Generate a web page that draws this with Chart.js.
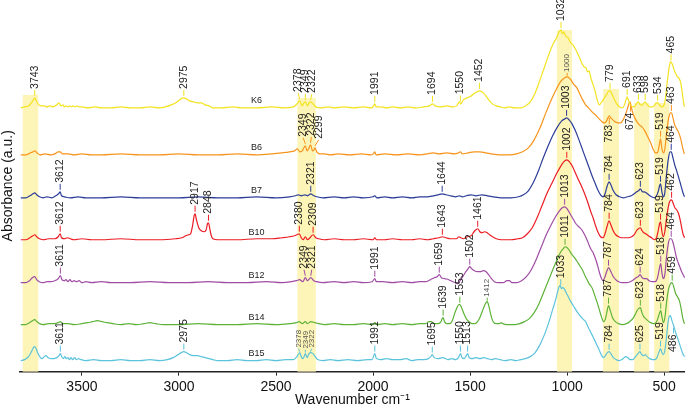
<!DOCTYPE html>
<html>
<head>
<meta charset="utf-8">
<title>FTIR spectra</title>
<script src="https://cdn.jsdelivr.net/npm/chart.js"></script>
<style>
  html, body { margin: 0; padding: 0; background: #fff; }
  #chart { display: block; }
</style>
</head>
<body>
<canvas id="chart" width="685" height="406"></canvas>
<script>
// Spectra, each point is [wavenumber, absorbance above the trace's own baseline]
const k6 = [[3815,0],[3795,1],[3775,2],[3760,5],[3750,8],[3743,10],[3735,7],[3722,3],[3710,2],[3695,2],[3680,1],[3665,2],[3650,1],[3630,3],[3618,5],[3608,2],[3598,3],[3590,1],[3582,2],[3572,1],[3565,2],[3555,1],[3545,2],[3535,1],[3525,2],[3515,1],[3500,1],[3470,0],[3430,1],[3400,0],[3350,0],[3300,1],[3250,0],[3200,0],[3150,1],[3100,0],[3070,1],[3040,3],[3010,6],[2990,9],[2975,10],[2962,9],[2945,7],[2925,6],[2905,5],[2885,5],[2865,3],[2845,2],[2825,0],[2780,0],[2720,1],[2680,0],[2600,0],[2520,1],[2460,0],[2410,1],[2392,4],[2378,7],[2365,2],[2356,5],[2349,6],[2338,2],[2330,5],[2322,6],[2310,4],[2295,1],[2270,0],[2230,1],[2200,0],[2150,1],[2100,0],[2050,1],[2010,0],[2000,1],[1991,4],[1984,1],[1960,1],[1930,0],[1900,1],[1860,0],[1820,1],[1780,0],[1740,1],[1710,2],[1694,4],[1680,2],[1650,1],[1620,2],[1590,1],[1570,2],[1555,6],[1548,4],[1535,8],[1515,10],[1495,12],[1475,15],[1452,17],[1432,15],[1415,11],[1400,7],[1385,4],[1365,2],[1345,1],[1320,0],[1300,1],[1270,0],[1240,0],[1215,2],[1190,6],[1165,15],[1140,28],[1115,42],[1090,56],[1070,65],[1055,70],[1045,75],[1038,77],[1032,78],[1025,74],[1018,76],[1008,72],[995,70],[985,66],[970,63],[955,58],[940,52],[925,45],[912,41],[903,40],[895,36],[888,37],[878,30],[868,24],[858,18],[845,8],[835,3],[822,6],[808,10],[795,14],[785,17],[779,17],[770,14],[758,9],[745,4],[730,1],[715,0],[705,3],[697,8],[691,11],[683,7],[672,2],[662,1],[650,2],[640,5],[633,6],[622,3],[612,3],[604,5],[598,6],[588,3],[575,1],[560,1],[548,3],[540,5],[534,5],[525,3],[512,1],[503,2],[495,8],[485,25],[475,40],[468,46],[462,45],[455,42],[447,37],[440,34],[432,31],[425,30],[415,25],[405,12],[398,3],[395,1]];
const b6 = [[3815,0],[3790,0],[3765,2],[3752,3],[3743,4],[3732,2],[3715,0],[3690,1],[3660,0],[3640,1],[3622,3],[3612,3],[3600,1],[3570,1],[3540,0],[3500,1],[3450,0],[3400,0],[3300,1],[3200,0],[3100,0],[3000,1],[2900,0],[2800,0],[2700,1],[2600,0],[2520,1],[2470,2],[2430,3],[2405,4],[2390,6],[2378,3],[2365,4],[2349,9],[2340,4],[2332,6],[2322,10],[2312,4],[2305,5],[2299,7],[2290,3],[2275,1],[2250,1],[2220,0],[2180,1],[2120,0],[2060,1],[2010,0],[1998,1],[1991,3],[1984,0],[1940,1],[1880,0],[1820,1],[1760,0],[1720,1],[1690,2],[1660,1],[1620,2],[1580,1],[1560,2],[1550,3],[1540,1],[1510,2],[1480,3],[1450,3],[1420,2],[1390,1],[1350,0],[1300,0],[1260,1],[1230,3],[1200,7],[1170,15],[1140,27],[1110,42],[1080,56],[1055,66],[1035,73],[1015,77],[1000,78],[985,76],[968,71],[950,67],[935,61],[920,55],[905,50],[890,47],[872,43],[855,40],[840,37],[825,34],[810,32],[800,33],[790,37],[783,39],[775,37],[765,35],[752,33],[738,32],[725,32],[712,35],[700,40],[690,46],[682,51],[676,53],[670,48],[662,42],[652,37],[640,33],[628,30],[615,28],[600,24],[585,18],[570,12],[558,6],[545,2],[535,2],[527,8],[519,16],[512,6],[503,2],[496,7],[488,22],[478,36],[468,42],[462,42],[455,37],[446,30],[436,26],[425,22],[415,16],[405,7],[398,2],[395,1]];
const b7 = [[3815,0],[3790,0],[3768,2],[3752,4],[3743,5],[3733,3],[3718,1],[3700,0],[3680,1],[3655,0],[3635,2],[3620,4],[3612,6],[3605,2],[3590,1],[3560,0],[3520,1],[3480,0],[3400,0],[3300,1],[3200,0],[3100,0],[3000,0],[2900,1],[2800,0],[2700,0],[2600,1],[2500,0],[2430,1],[2400,2],[2385,3],[2370,2],[2350,3],[2338,2],[2321,4],[2305,2],[2290,1],[2260,0],[2200,1],[2150,0],[2100,1],[2050,0],[2000,1],[1991,2],[1980,0],[1940,1],[1900,0],[1850,1],[1800,0],[1760,1],[1720,1],[1690,2],[1665,3],[1644,4],[1625,3],[1600,2],[1575,1],[1555,2],[1540,1],[1520,2],[1495,3],[1470,2],[1440,3],[1410,2],[1380,1],[1340,0],[1290,0],[1250,1],[1225,3],[1200,7],[1175,15],[1150,26],[1125,39],[1100,51],[1075,62],[1050,71],[1028,77],[1012,79],[1003,80],[990,78],[975,74],[960,68],[945,61],[930,53],[915,45],[900,37],[885,29],[870,21],[855,14],[840,7],[828,3],[815,1],[805,4],[795,11],[784,16],[775,13],[762,7],[748,3],[730,1],[710,0],[690,1],[670,2],[655,4],[642,6],[632,7],[623,9],[612,6],[603,6],[593,5],[580,3],[565,1],[550,0],[540,2],[530,7],[524,12],[519,14],[512,6],[505,1],[497,5],[488,24],[478,40],[470,46],[464,46],[455,40],[446,33],[436,27],[425,20],[415,13],[405,6],[398,2],[395,1]];
const b10 = [[3815,0],[3790,0],[3768,2],[3752,4],[3743,5],[3733,3],[3718,1],[3700,0],[3670,1],[3640,1],[3622,3],[3612,6],[3605,2],[3590,1],[3575,2],[3560,1],[3540,0],[3500,1],[3450,0],[3400,0],[3300,1],[3200,0],[3100,0],[3020,1],[2985,2],[2965,4],[2950,5],[2940,6],[2930,14],[2922,24],[2917,26],[2910,20],[2898,12],[2885,9],[2870,8],[2860,10],[2853,16],[2848,17],[2842,12],[2835,5],[2825,1],[2800,0],[2700,0],[2600,1],[2520,1],[2470,2],[2430,3],[2405,4],[2392,5],[2380,6],[2370,2],[2360,0],[2349,3],[2338,0],[2325,2],[2309,5],[2295,2],[2280,1],[2250,0],[2200,1],[2150,0],[2100,0],[2050,1],[2000,0],[1991,2],[1982,0],[1940,0],[1900,1],[1850,0],[1800,0],[1760,1],[1720,0],[1690,1],[1660,2],[1643,3],[1625,2],[1600,1],[1570,1],[1558,3],[1548,2],[1535,1],[1515,3],[1495,4],[1480,8],[1470,10],[1461,11],[1450,8],[1440,7],[1425,8],[1412,7],[1400,5],[1385,3],[1365,1],[1340,0],[1290,0],[1255,1],[1230,2],[1205,6],[1180,12],[1155,22],[1130,34],[1105,46],[1080,56],[1055,66],[1035,73],[1018,78],[1002,80],[988,78],[972,73],[958,67],[942,60],[925,53],[910,46],[895,38],[880,29],[865,21],[852,13],[840,7],[828,3],[815,2],[805,6],[795,13],[784,19],[775,15],[763,9],[750,5],[735,3],[720,2],[700,2],[685,2],[668,3],[655,5],[643,9],[633,11],[623,12],[614,9],[605,7],[595,6],[582,4],[565,2],[550,0],[540,2],[530,10],[524,16],[519,18],[512,8],[505,3],[497,8],[488,22],[478,34],[470,39],[462,40],[453,36],[445,32],[436,30],[426,26],[418,20],[410,12],[402,5],[395,2]];
const b12 = [[3815,0],[3790,0],[3770,2],[3755,5],[3743,6],[3733,3],[3720,1],[3700,0],[3680,1],[3660,1],[3640,2],[3622,4],[3611,7],[3603,3],[3592,2],[3582,3],[3572,1],[3562,3],[3552,1],[3540,2],[3528,1],[3515,2],[3500,0],[3480,1],[3450,0],[3400,1],[3350,0],[3250,0],[3150,1],[3050,0],[2950,0],[2850,1],[2750,0],[2650,0],[2550,1],[2470,0],[2420,1],[2395,2],[2378,3],[2362,1],[2349,5],[2338,2],[2321,5],[2305,2],[2290,1],[2260,0],[2200,1],[2150,0],[2100,1],[2050,0],[2005,1],[1991,4],[1983,1],[1950,1],[1900,0],[1850,1],[1800,0],[1760,1],[1730,1],[1705,3],[1685,5],[1670,6],[1659,8],[1648,5],[1630,4],[1610,3],[1590,1],[1575,0],[1562,-1],[1552,2],[1538,6],[1522,11],[1510,14],[1502,16],[1492,14],[1478,12],[1462,11],[1448,11],[1432,12],[1418,11],[1405,8],[1390,4],[1375,1],[1355,0],[1330,0],[1310,2],[1298,2],[1285,0],[1260,0],[1235,2],[1210,6],[1185,13],[1160,23],[1135,35],[1110,47],[1085,57],[1060,66],[1040,72],[1025,75],[1013,76],[1000,74],[985,69],[970,64],[955,59],[940,56],[925,53],[910,48],[898,43],[886,37],[876,33],[866,30],[856,25],[846,19],[835,11],[825,5],[815,2],[805,6],[795,12],[787,15],[777,12],[765,7],[750,3],[735,1],[715,0],[695,0],[675,1],[658,3],[645,5],[635,6],[624,8],[614,5],[604,4],[592,4],[578,2],[562,1],[548,1],[536,4],[528,11],[522,17],[518,19],[512,10],[505,4],[497,8],[488,26],[478,40],[470,44],[464,44],[456,41],[447,34],[438,26],[428,20],[418,15],[408,10],[400,7],[395,5]];
const b14 = [[3815,0],[3790,0],[3770,2],[3755,4],[3743,5],[3732,3],[3718,1],[3700,0],[3670,1],[3640,1],[3622,2],[3611,3],[3600,1],[3570,1],[3540,0],[3500,1],[3470,2],[3445,3],[3420,4],[3395,3],[3370,2],[3340,1],[3300,0],[3260,1],[3220,0],[3180,1],[3150,2],[3120,1],[3080,0],[3000,0],[2900,1],[2800,0],[2700,0],[2600,1],[2500,0],[2430,1],[2395,2],[2380,3],[2365,1],[2349,3],[2338,1],[2321,3],[2300,2],[2280,1],[2250,0],[2200,1],[2150,0],[2100,0],[2050,1],[2000,0],[1991,2],[1982,0],[1940,1],[1900,0],[1850,1],[1800,0],[1760,1],[1730,1],[1712,3],[1700,3],[1685,1],[1665,1],[1650,3],[1644,6],[1639,7],[1632,3],[1620,1],[1605,1],[1592,4],[1580,11],[1568,17],[1558,20],[1553,20],[1544,17],[1532,11],[1520,6],[1505,3],[1490,1],[1475,1],[1462,3],[1450,7],[1438,13],[1426,19],[1418,22],[1412,23],[1404,19],[1396,12],[1388,6],[1378,2],[1365,1],[1350,1],[1340,2],[1332,1],[1310,0],[1270,0],[1245,1],[1220,3],[1195,6],[1170,12],[1145,21],[1120,33],[1095,45],[1070,57],[1050,66],[1033,73],[1020,76],[1011,78],[1000,77],[988,74],[975,70],[962,67],[948,63],[935,59],[922,55],[908,49],[895,44],[884,40],[875,38],[866,34],[856,28],[845,22],[833,14],[822,7],[812,3],[804,5],[796,12],[787,19],[778,14],[766,7],[752,3],[735,1],[715,0],[695,1],[678,3],[662,6],[650,10],[640,14],[632,16],[623,17],[615,12],[606,8],[596,6],[585,4],[570,2],[555,1],[542,2],[533,6],[525,11],[518,14],[511,7],[504,2],[496,8],[487,24],[477,36],[468,41],[459,42],[450,37],[441,31],[432,28],[422,24],[413,16],[405,7],[398,2],[395,1]];
const b15 = [[3815,0],[3795,1],[3775,4],[3760,9],[3750,13],[3743,14],[3736,12],[3726,7],[3714,3],[3705,2],[3695,4],[3685,5],[3675,3],[3660,2],[3645,2],[3630,3],[3618,5],[3611,7],[3604,4],[3595,2],[3588,4],[3580,2],[3572,3],[3564,1],[3556,3],[3548,1],[3538,3],[3528,1],[3518,2],[3505,1],[3480,0],[3440,1],[3400,0],[3350,0],[3300,1],[3250,0],[3200,0],[3150,1],[3100,0],[3060,1],[3030,3],[3005,6],[2988,8],[2975,9],[2962,8],[2945,6],[2925,5],[2905,5],[2885,4],[2865,3],[2845,2],[2825,1],[2800,0],[2750,0],[2700,1],[2650,0],[2600,0],[2550,1],[2500,0],[2450,1],[2410,1],[2392,4],[2378,8],[2368,3],[2360,2],[2349,7],[2340,3],[2330,7],[2322,8],[2310,7],[2298,4],[2285,1],[2260,0],[2220,1],[2180,0],[2130,1],[2080,0],[2030,1],[2005,1],[1991,7],[1983,2],[1960,1],[1930,2],[1900,1],[1860,1],[1830,2],[1800,0],[1770,1],[1740,1],[1715,2],[1703,4],[1695,6],[1685,3],[1665,2],[1640,3],[1615,1],[1595,2],[1575,1],[1560,3],[1550,7],[1542,3],[1530,2],[1520,5],[1513,7],[1505,3],[1490,2],[1470,3],[1450,2],[1430,3],[1410,2],[1390,1],[1370,2],[1345,1],[1320,0],[1290,1],[1265,0],[1240,1],[1215,2],[1190,4],[1165,8],[1140,16],[1115,27],[1095,38],[1075,51],[1058,62],[1048,70],[1042,74],[1036,75],[1030,72],[1024,73],[1016,72],[1005,68],[992,63],[978,58],[962,53],[946,48],[930,44],[916,41],[905,39],[893,34],[880,29],[865,23],[850,17],[836,11],[822,5],[812,3],[803,5],[793,8],[784,9],[775,7],[762,3],[748,1],[732,0],[718,1],[706,3],[698,4],[688,3],[675,1],[662,1],[648,4],[635,7],[625,9],[616,6],[606,5],[598,6],[588,4],[575,2],[560,1],[548,1],[538,3],[528,8],[519,12],[512,8],[505,6],[498,9],[490,20],[482,36],[475,44],[468,45],[462,41],[455,37],[447,32],[439,27],[430,22],[420,16],[410,10],[402,6],[395,4]];

const spectra = [k6, b6, b7, b10, b12, b14, b15];
const seriesNames = ['K6', 'B6', 'B7', 'B10', 'B12', 'B14', 'B15'];
const seriesColors = ['#f3e320', '#f7941d', '#2b3d98', '#ec1c24', '#a04ca4', '#5db238', '#5cc3dc'];
// vertical stacking offset of each trace (a.u.)
const seriesOffsets = [264, 217, 174, 132, 89, 47, 11];

const xTicks = [500, 1000, 1500, 2000, 2500, 3000, 3500];

// Highlighted wavenumber bands
const bandFrom = [3805, 2390, 1053, 815, 655, 552];
const bandTo = [3725, 2295, 975, 733, 577, 474];
const bandTop = [277, 274, 342, 283, 269, 269];

// Peak labels: [wavenumber, text, text position wavenumber (optional), style]
const k6Peaks = [[3743,'3743'],[2975,'2975'],[2378,'2378',2386],[2349,'2349'],[2322,'2322',2315],[1991,'1991'],[1694,'1694'],[1550,'1550'],[1452,'1452'],[1032,'1032'],[779,'779'],[691,'691'],[633,'633'],[598,'598'],[534,'534'],[465,'465']];
const b6Peaks = [[2349,'2349',2360],[2322,'2322',2318],[2299,'2299',2280],[1000,'1000',null,'small'],[783,'783',null,'below'],[674,'674',null,'below'],[519,'519'],[463,'463']];
const b7Peaks = [[3612,'3612'],[2321,'2321'],[1644,'1644'],[1003,'1003'],[784,'784'],[623,'623'],[519,'519'],[464,'464']];
const b10Peaks = [[3612,'3612'],[2917,'2917'],[2848,'2848'],[2380,'2380'],[2309,'2309'],[1643,'1643'],[1461,'1461'],[1002,'1002'],[784,'784'],[623,'623'],[519,'519'],[462,'462']];
const b12Peaks = [[3611,'3611'],[2349,'2349',2356],[2321,'2321',2316],[1991,'1991'],[1659,'1659'],[1502,'1502'],[1013,'1013'],[787,'787'],[624,'624'],[518,'518'],[464,'464']];
const b14Peaks = [[1639,'1639'],[1553,'1553'],[1412,'1412',null,'small'],[1011,'1011'],[787,'787'],[623,'623'],[518,'518'],[459,'459']];
const b15Peaks = [[3611,'3611'],[2975,'2975'],[2378,'2378',2384,'small'],[2349,'2349',null,'small'],[2322,'2322',2316,'small'],[1991,'1991'],[1695,'1695'],[1550,'1550'],[1513,'1513'],[1033,'1033'],[784,'784'],[625,'625'],[519,'519'],[452,'486',null,'below']];
const peakLabels = [k6Peaks, b6Peaks, b7Peaks, b10Peaks, b12Peaks, b14Peaks, b15Peaks];

const labelFont = '"Liberation Sans", Arial, sans-serif';

// value of a trace at a wavenumber, read between its points
function curveAt(spec, w) {
    for (let i = 0; i < spec.length - 1; i++) {
        const a = spec[i], b = spec[i + 1];
        if (w <= a[0] && w >= b[0]) {
            const t = (a[0] - w) / (a[0] - b[0]);
            return a[1] + t * (b[1] - a[1]);
        }
    }
    return 0;
}

// yellow bands behind the traces
const bandPlugin = {
    id: 'bands',
    beforeDatasetsDraw(chart) {
        const ctx = chart.ctx;
        const xs = chart.scales.x, ys = chart.scales.y;
        ctx.save();
        ctx.fillStyle = '#fdf5b8';
        bandFrom.forEach((from, i) => {
            const x0 = xs.getPixelForValue(from);
            const x1 = xs.getPixelForValue(bandTo[i]);
            const y0 = ys.getPixelForValue(bandTop[i]);
            const y1 = ys.getPixelForValue(0);
            ctx.fillRect(x0, y0, x1 - x0, y1 - y0);
        });
        ctx.restore();
    }
};

// peak annotations and trace names
const labelPlugin = {
    id: 'peakLabels',
    afterDatasetsDraw(chart) {
        const ctx = chart.ctx;
        const xs = chart.scales.x, ys = chart.scales.y;
        ctx.save();
        spectra.forEach((spec, i) => {
            const off = seriesOffsets[i];
            const color = seriesColors[i];

            // trace name just above its baseline
            ctx.font = '9px ' + labelFont;
            ctx.fillStyle = '#222';
            ctx.textAlign = 'center';
            ctx.textBaseline = 'middle';
            ctx.fillText(seriesNames[i], xs.getPixelForValue(2600), ys.getPixelForValue(off) - 7);

            peakLabels[i].forEach(([w, text, tw, style]) => {
                const small = style === 'small';
                const below = style === 'below';
                const dir = below ? 1 : -1;
                const gap = small ? 1 : 2;
                const len = small ? 3 : 6;
                const y = ys.getPixelForValue(curveAt(spec, w) + off);
                const x0 = xs.getPixelForValue(w);
                const x1 = xs.getPixelForValue(tw || w);

                ctx.strokeStyle = color;
                ctx.lineWidth = 1;
                ctx.beginPath();
                ctx.moveTo(x0, y + dir * gap);
                ctx.lineTo(x1, y + dir * (gap + len));
                ctx.stroke();

                ctx.save();
                ctx.translate(x1, y + dir * (gap + len + 1));
                ctx.rotate(-Math.PI / 2);
                ctx.textAlign = below ? 'right' : 'left';
                ctx.textBaseline = 'middle';
                ctx.font = (small ? '8px ' : '10.5px ') + labelFont;
                ctx.fillStyle = small ? '#555' : '#1a1a1a';
                ctx.fillText(text, 0, 0);
                ctx.restore();
            });
        });
        ctx.restore();
    }
};

Chart.defaults.font.family = labelFont;

const datasets = spectra.map((spec, i) => ({
    label: seriesNames[i],
    data: spec.map(p => ({ x: p[0], y: p[1] + seriesOffsets[i] })),
    borderColor: seriesColors[i],
    borderWidth: 1.2,
    pointRadius: 0,
    fill: false,
    cubicInterpolationMode: 'monotone'
}));

new Chart(document.getElementById('chart'), {
    type: 'line',
    data: { datasets: datasets },
    plugins: [bandPlugin, labelPlugin],
    options: {
        responsive: false,
        animation: false,
        layout: { padding: { top: 0, left: 0, right: 0, bottom: -4 } },
        plugins: {
            legend: { display: false },
            tooltip: { enabled: false }
        },
        scales: {
            x: {
                type: 'linear',
                reverse: true,
                min: 393,
                max: 3820,
                afterBuildTicks: scale => {
                    scale.ticks = xTicks.map(v => ({ value: v }));
                },
                grid: { drawOnChartArea: false, drawTicks: true, tickLength: 4, color: '#222' },
                border: { display: true, color: '#222', width: 1.5 },
                ticks: {
                    color: '#111',
                    padding: 6,
                    font: { size: 14, lineHeight: 0.8 },
                    callback: v => String(v)
                },
                title: {
                    display: true,
                    text: 'Wavenumber cm\u207B\u00B9',
                    color: '#111',
                    font: { size: 14, lineHeight: 0.8 },
                    padding: { top: -4, bottom: 4 }
                }
            },
            y: {
                min: 0,
                max: 372,
                grid: { display: false, drawTicks: false },
                border: { display: false },
                ticks: { display: false },
                title: {
                    display: true,
                    text: 'Absorbance (a.u.)',
                    color: '#111',
                    font: { size: 14 },
                    padding: { top: 0, bottom: 3 }
                }
            }
        }
    }
});
</script>
</body>
</html>
